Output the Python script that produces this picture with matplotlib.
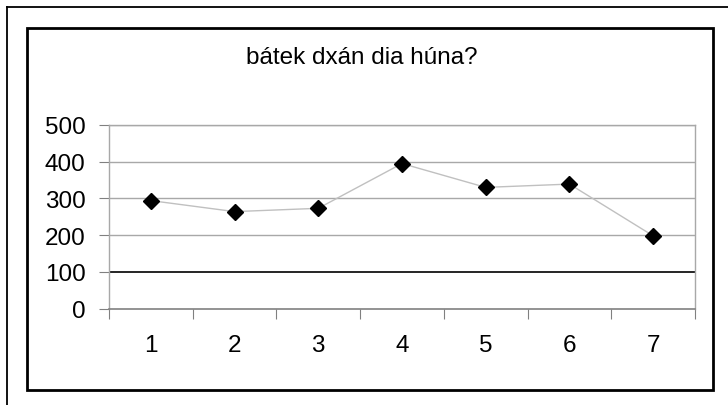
import matplotlib.pyplot as plt
from matplotlib.patches import Rectangle
from matplotlib.lines import Line2D

categories = ["1", "2", "3", "4", "5", "6", "7"]
values = [294, 264, 273, 395, 330, 339, 198]
title = "bátek dxán dia húna?"

plt.rcParams['font.family'] = ['Liberation Sans', 'DejaVu Sans']

W, H = 728, 406
fig = plt.figure(figsize=(W / 100, H / 100), dpi=100)

# outer frame lines and inner chart border
fig.add_artist(Line2D([7 / W, 7 / W], [0, 1 - 8 / H], transform=fig.transFigure, color="black", lw=1.3))
fig.add_artist(Line2D([7 / W, 1], [1 - 8 / H, 1 - 8 / H], transform=fig.transFigure, color="black", lw=1.3))
fig.add_artist(Rectangle((27 / W, 1 - 391 / H), (713 - 27) / W, (391 - 29) / H,
                         transform=fig.transFigure, fill=False, ec="black", lw=2))

ax = fig.add_axes([109 / W, 1 - 309.5 / H, (695 - 109) / W, (309.5 - 126) / H])
x = [i + 0.5 for i in range(len(categories))]
ax.plot(x, values, color="#c0c0c0", lw=1, marker="D", ms=8, mfc="black", mec="black", zorder=3)

ax.set_xlim(0, len(categories))
ax.set_ylim(0, 500)
ax.set_yticks([0, 100, 200, 300, 400, 500])
for v in [200, 300, 400, 500]:
    ax.axhline(v, color="#a8a8a8", lw=1, zorder=1)
ax.axhline(100, color="black", lw=1.2, zorder=2)

ax.set_xticks(range(len(categories) + 1))
ax.set_xticklabels([])
ax.set_xticks(x, minor=True)
ax.set_xticklabels(categories, minor=True)
ax.tick_params(axis="x", which="major", length=7, color="#808080", direction="out")
ax.tick_params(axis="x", which="minor", length=0, labelsize=17.5, pad=18)
ax.tick_params(axis="y", length=7, color="#808080", labelsize=17.5, pad=10)

for s in ["left", "right", "top"]:
    ax.spines[s].set_color("#a8a8a8")
    ax.spines[s].set_linewidth(1)
ax.spines["bottom"].set_color("#808080")
ax.spines["bottom"].set_linewidth(1.2)

fig.text(362 / W, 1 - 58 / H, title, ha="center", va="center", fontsize=17.5)

fig.savefig("out.png", dpi=100)
